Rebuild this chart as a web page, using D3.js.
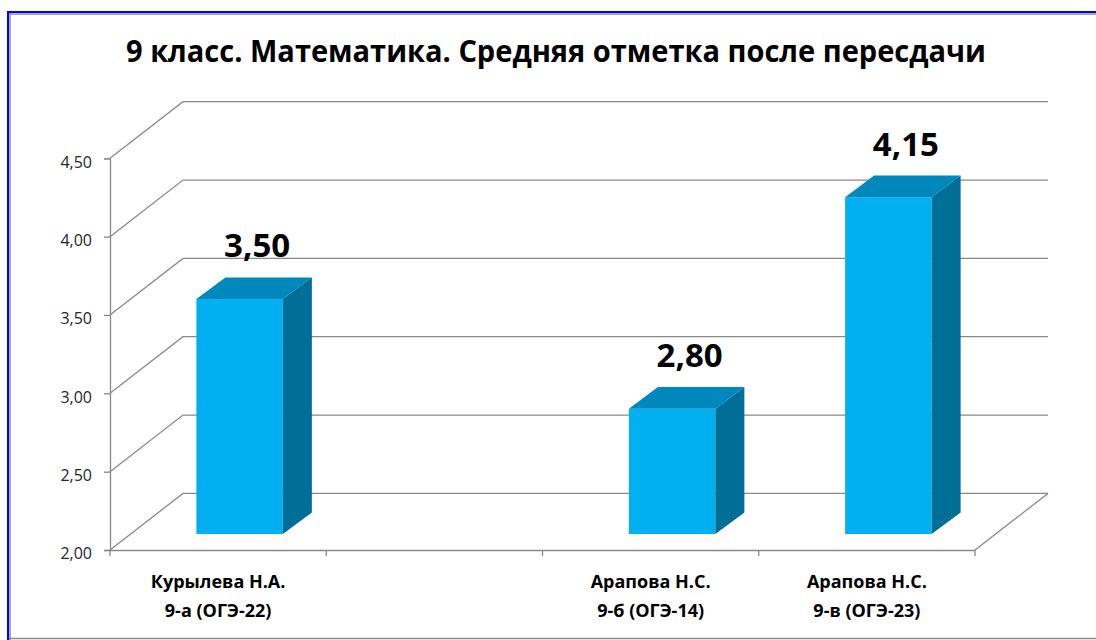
<!DOCTYPE html>
<html>
<head>
<meta charset="utf-8">
<script src="https://cdn.jsdelivr.net/npm/d3@7"></script>
<style>
  html, body { margin: 0; padding: 0; background: #fff; }
  svg { display: block; }
</style>
</head>
<body>
<svg id="chart" width="1096" height="640"></svg>
<script>
// ---- data ----
const titleText = "9 класс. Математика. Средняя отметка после пересдачи";
const teacherNames = ["Курылева Н.А.", "", "Арапова Н.С.", "Арапова Н.С."];
const classNames = ["9-а (ОГЭ-22)", "", "9-б (ОГЭ-14)", "9-в (ОГЭ-23)"];
const categories = ["c1", "c2", "c3", "c4"];
const values = [3.50, null, 2.80, 4.15];
const yTicks = [2.00, 2.50, 3.00, 3.50, 4.00, 4.50];

(function () {
// ---- layout ----
const svg = d3.select("#chart");
const W = 1096, H = 640;
const X0 = 110, X1 = 975;          // front plane horizontal extent
const Y0 = 550, Y1 = 158.3;        // front plane vertical extent
const DX = 73, DY = 56.6;          // full depth of the box
const BZ0 = { dx: 21.5, dy: 16 };  // bar front plane offset
const BZ1 = { dx: 50.5, dy: 37.6 };// bar back plane offset

const x = d3.scaleBand().domain(categories).range([X0, X1]).paddingInner(0.6).paddingOuter(0.3);
const xc = d3.scaleBand().domain(categories).range([X0, X1]).padding(0);
const y = d3.scaleLinear().domain([2.0, 4.5]).range([Y0, Y1]);
const fmt = v => d3.format(".2f")(v).replace(".", ",");

const gridColor = "#898989";

// frame
svg.append("line").attr("x1", 7).attr("x2", W).attr("y1", 12).attr("y2", 12).attr("stroke", "#0000ff").attr("stroke-width", 2);
svg.append("line").attr("x1", 9.5).attr("x2", W).attr("y1", 14).attr("y2", 14).attr("stroke", "#8c8c8c").attr("stroke-width", 1.5);
svg.append("line").attr("x1", 8).attr("x2", 8).attr("y1", 11).attr("y2", H).attr("stroke", "#0000ff").attr("stroke-width", 2);
svg.append("line").attr("x1", 10).attr("x2", 10).attr("y1", 13).attr("y2", H).attr("stroke", "#8c8c8c").attr("stroke-width", 1.5);
svg.append("line").attr("x1", 9).attr("x2", W).attr("y1", 638.5).attr("y2", 638.5).attr("stroke", "#8c8c8c").attr("stroke-width", 1.5);

// title
svg.append("text")
  .attr("x", 556).attr("y", 61.5)
  .attr("text-anchor", "middle")
  .attr("font-family", "'Open Sans', sans-serif")
  .attr("font-weight", "bold")
  .attr("font-size", 30)
  .attr("textLength", 860)
  .attr("lengthAdjust", "spacingAndGlyphs")
  .attr("fill", "#000")
  .text(titleText);

// gridlines (side wall diagonals + back wall)
const grid = svg.append("g").attr("fill", "none").attr("stroke", gridColor).attr("stroke-width", 1.3);
yTicks.forEach(t => {
  const yy = y(t);
  grid.append("polyline")
    .attr("points", `${X0},${yy} ${X0 + DX},${yy - DY} ${X1 + DX},${yy - DY}`);
});
// floor right edge
grid.append("line").attr("x1", X1).attr("y1", Y0).attr("x2", X1 + DX).attr("y2", Y0 - DY);

// axes
const yAxis = svg.append("g").attr("transform", `translate(${X0},0)`)
  .call(d3.axisLeft(y).tickValues(yTicks).tickSize(6).tickPadding(12).tickFormat(fmt));
yAxis.select(".domain").attr("stroke", gridColor).attr("stroke-width", 1.3);
yAxis.selectAll(".tick line").attr("stroke", gridColor).attr("stroke-width", 1.3);
yAxis.selectAll(".tick text")
  .attr("font-family", "'Open Sans', sans-serif")
  .attr("font-size", 16)
  .attr("fill", "#262626")
  .attr("dy", "0.55em");

const xAxis = svg.append("g").attr("transform", `translate(0,${Y0})`)
  .call(d3.axisBottom(xc).tickValues([]).tickSizeOuter(0));
xAxis.select(".domain").attr("stroke", gridColor).attr("stroke-width", 1.3);
const boundaries = d3.range(categories.length + 1).map(i => X0 + i * xc.step());
xAxis.selectAll(".btick").data(boundaries).join("line")
  .attr("x1", d => d).attr("x2", d => d).attr("y1", 0).attr("y2", 6)
  .attr("stroke", gridColor).attr("stroke-width", 1.3);

// category labels
const labels = svg.append("g")
  .attr("font-family", "'Open Sans', sans-serif")
  .attr("font-weight", "bold")
  .attr("font-size", 18)
  .attr("fill", "#000")
  .attr("text-anchor", "middle");
categories.forEach((c, i) => {
  const cx = xc(c) + xc.bandwidth() / 2;
  labels.append("text").attr("x", cx).attr("y", 588).text(teacherNames[i]);
  labels.append("text").attr("x", cx).attr("y", 616.5).text(classNames[i]);
});

// bars
const frontCol = "#00b0f0", topCol = "#0087bb", sideCol = "#006f98";
const bars = svg.append("g");
categories.forEach((c, i) => {
  const v = values[i];
  if (v == null) return;
  const xl = x(c), xr = x(c) + x.bandwidth();
  const yb = y(2.0), yt = y(v);
  const f = BZ0, b = BZ1;
  bars.append("polygon").attr("fill", frontCol)
    .attr("points", [[xl + f.dx, yt - f.dy], [xr + f.dx, yt - f.dy], [xr + f.dx, yb - f.dy], [xl + f.dx, yb - f.dy]].join(" "));
  bars.append("polygon").attr("fill", topCol)
    .attr("points", [[xl + f.dx, yt - f.dy], [xr + f.dx, yt - f.dy], [xr + b.dx, yt - b.dy], [xl + b.dx, yt - b.dy]].join(" "));
  bars.append("polygon").attr("fill", sideCol)
    .attr("points", [[xr + f.dx, yt - f.dy], [xr + b.dx, yt - b.dy], [xr + b.dx, yb - b.dy], [xr + f.dx, yb - f.dy]].join(" "));
  bars.append("text")
    .attr("x", (xl + xr) / 2 + (f.dx + b.dx) / 2 + 3)
    .attr("y", yt - b.dy - 20)
    .attr("text-anchor", "middle")
    .attr("font-family", "'Open Sans', sans-serif")
    .attr("font-weight", "bold")
    .attr("font-size", 33)
    .attr("fill", "#000")
    .text(fmt(v));
});
})();
</script>
</body>
</html>
